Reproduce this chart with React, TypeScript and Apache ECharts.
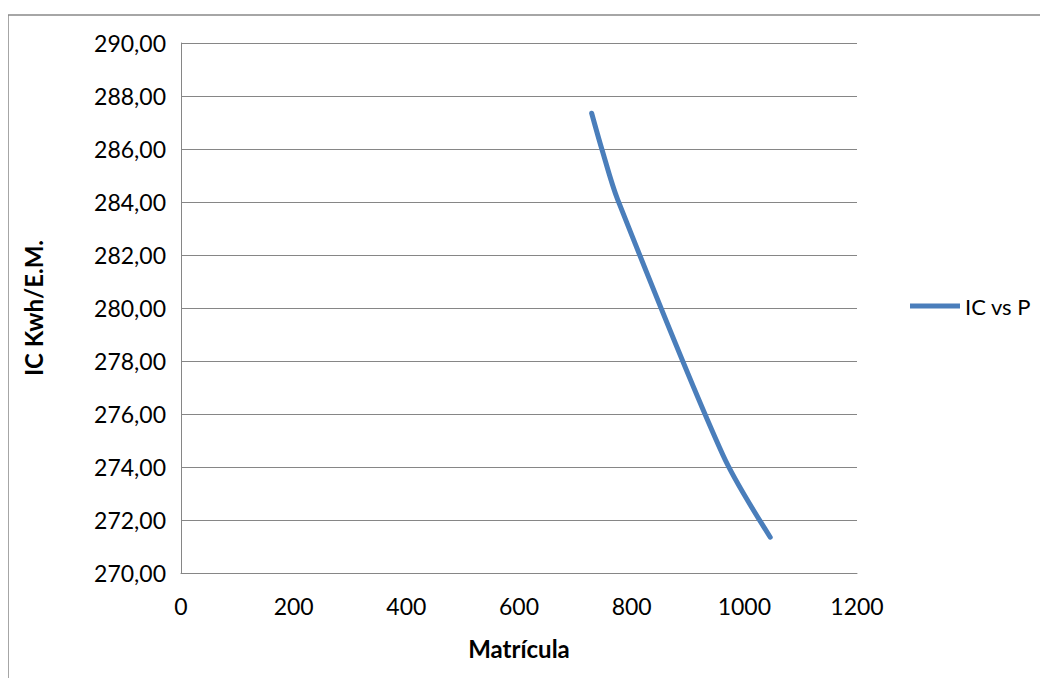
import React, { useEffect, useRef } from "react";
import * as echarts from "echarts";

const matricula = [729, 747, 775, 962, 1046];
const icValues = [287.35, 286.0, 284.1, 274.45, 271.35];
const seriesName = "IC vs P";

export default function App() {
  const ref = useRef<HTMLDivElement>(null);
  useEffect(() => {
    if (!ref.current) return;
    const chart = echarts.init(ref.current, null, { renderer: "svg" });
    const font = "Lato, 'Open Sans', sans-serif";
    chart.setOption({
      animation: false,
      backgroundColor: "#ffffff",
      textStyle: { fontFamily: font },
      graphic: [
        {
          type: "rect",
          shape: { x: 0, y: 7, width: 1100, height: 700 },
          style: { fill: "none", stroke: "#898989", lineWidth: 1.5 },
          silent: true,
        },
      ],
      grid: { left: 173, right: 183, top: 35, bottom: 105 },
      legend: {
        left: 897,
        top: 282,
        orient: "vertical",
        itemWidth: 50,
        itemHeight: 5,
        itemGap: 4,
        icon: "rect",
        textStyle: { fontFamily: font, fontSize: 22, color: "#000" },
        data: [seriesName],
      },
      xAxis: {
        type: "value",
        min: 0,
        max: 1200,
        interval: 200,
        name: "Matrícula",
        nameLocation: "middle",
        nameGap: 63,
        nameTextStyle: { fontFamily: font, fontSize: 24, fontWeight: "bold", color: "#000" },
        axisLine: { show: true, lineStyle: { color: "#868686", width: 1 } },
        axisTick: { show: false },
        splitLine: { show: false },
        axisLabel: {
          fontFamily: font,
          fontSize: 23,
          color: "#000",
          margin: 21,
          formatter: (v: number) => String(v),
        },
      },
      yAxis: {
        type: "value",
        min: 270,
        max: 290,
        interval: 2,
        name: "IC Kwh/E.M.",
        nameLocation: "middle",
        nameGap: 136,
        nameRotate: 90,
        nameTextStyle: { fontFamily: font, fontSize: 24, fontWeight: "bold", color: "#000" },
        axisLine: { show: true, lineStyle: { color: "#868686", width: 1 } },
        axisTick: { show: false },
        splitLine: { show: true, lineStyle: { color: "#868686", width: 1 } },
        axisLabel: {
          fontFamily: font,
          fontSize: 23,
          color: "#000",
          margin: 15,
          formatter: (v: number) => v.toFixed(2).replace(".", ","),
        },
      },
      series: [
        {
          name: seriesName,
          type: "line",
          data: matricula.map((x, i) => [x, icValues[i]]),
          smooth: 0.3,
          symbol: "none",
          lineStyle: { color: "#4a7ebb", width: 5, cap: "round" },
          itemStyle: { color: "#4a7ebb" },
        },
      ],
    });
    return () => chart.dispose();
  }, []);
  return <div ref={ref} style={{ width: 1032, height: 670 }} />;
}
